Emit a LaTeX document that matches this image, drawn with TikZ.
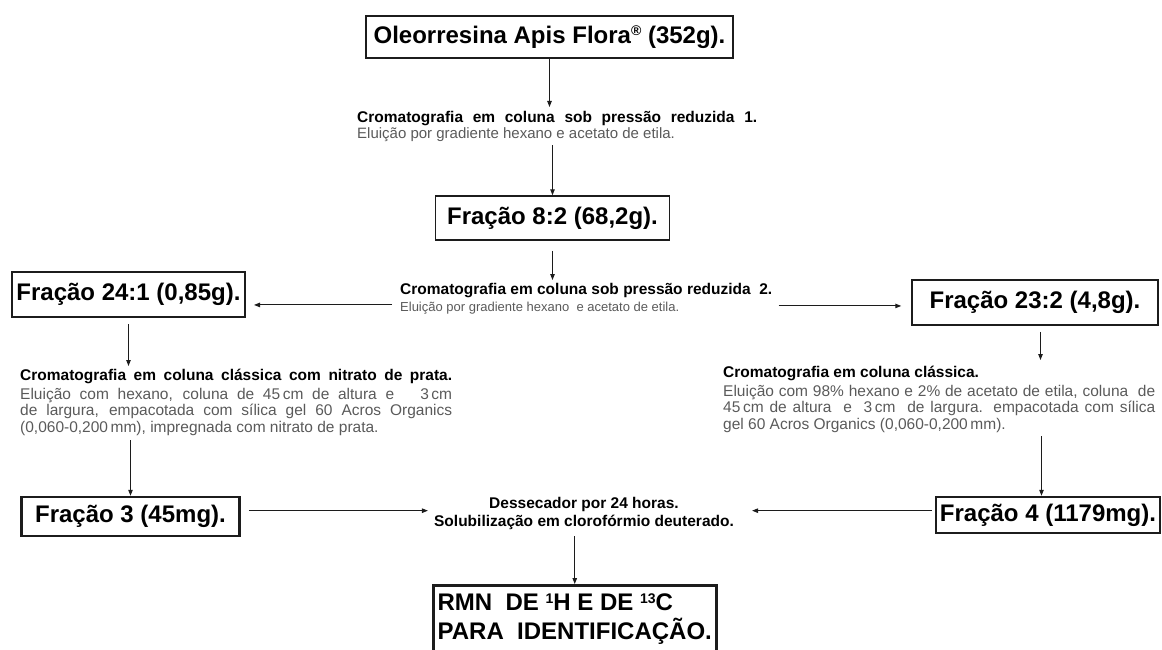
\documentclass[tikz,border=0pt]{standalone}
\usepackage{fontspec}
\setmainfont{Liberation Sans}
\usepackage{xcolor}
\usetikzlibrary{arrows.meta, positioning}
\definecolor{ink}{HTML}{1C1C1C}
\definecolor{notegray}{HTML}{5A5A5A}
\newcommand{\fracfont}{\fontsize{24}{29}\selectfont\bfseries}
\newcommand{\notefont}{\fontsize{15.5}{16.5}\selectfont}
\newcommand{\jline}[2][432pt]{\makebox[#1][s]{#2}}
\newcommand{\supmark}[1]{\raisebox{0.3em}{\fontsize{14}{14}\selectfont #1}}
\tikzset{
  frac box/.style={
    draw=ink,
    line width=1.5pt,
    font=\fracfont,
    inner xsep=4pt,
    inner ysep=0pt
  },
  heavy box/.style={frac box, line width=2.5pt},
  note/.style={
    font=\notefont,
    align=left,
    inner sep=0pt,
    anchor=north west
  },
  flow/.style={
    -{Triangle[length=6pt,width=4.5pt]},
    line width=1pt,
    color=ink
  }
}

\begin{document}
\begin{tikzpicture}[x=1pt,y=-1pt]
  \useasboundingbox (0,0) rectangle (1162,650);
  \clip (0,0) rectangle (1162,650);

  \node[heavy box, minimum width=367pt, minimum height=42pt] (ole) at (549.5,37) {Oleorresina Apis Flora\supmark{®} (352g).};
  \node[note] (cr1) at (357,111) {{\bfseries\jline[400pt]{Cromatografia em coluna sob pressão reduzida 1.}}\\
    {\fontsize{15}{17}\selectfont\color{notegray}Eluição por gradiente hexano e acetato de etila.}};
  \node[frac box, minimum width=234pt, minimum height=44pt] (f82) at (552.5,218) {Fração 8:2 (68,2g).};
  \node[note] (cr2) at (400,283) {{\bfseries Cromatografia em coluna sob pressão reduzida\ \ 2.}\\[1pt]
    {\fontsize{13}{16}\selectfont\color{notegray}Eluição por gradiente hexano\ \ e acetato de etila.}};
  \node[frac box, line width=2pt, minimum width=233pt, minimum height=45pt] (f241) at (128.5,294.5) {Fração 24:1 (0,85g).};
  \node[frac box, minimum width=246pt, minimum height=45pt] (f232) at (1035,302.5) {Fração 23:2 (4,8g).};

  \node[note] (crc) at (20,369) {{\bfseries\jline{Cromatografia em coluna clássica com nitrato de prata.}}\\[2pt]
    {\color{notegray}\jline{Eluição com hexano, coluna de 45\,cm de altura e\ \ \ 3\,cm}}\\
    {\color{notegray}\jline{de largura, empacotada com sílica gel 60 Acros Organics}}\\
    {\color{notegray}(0,060-0,200\,mm), impregnada com nitrato de prata.}};
  \node[note] (crd) at (723,366) {{\bfseries Cromatografia em coluna clássica.}\\[2pt]
    {\color{notegray}\jline{Eluição com 98\% hexano e 2\% de acetato de etila, coluna\ \ de}}\\
    {\color{notegray}\jline{45\,cm de altura\ \ e\ \ 3\,cm\ \ de largura. empacotada com sílica}}\\
    {\color{notegray}gel 60 Acros Organics (0,060-0,200\,mm).}};

  \node[heavy box, minimum width=218pt, minimum height=39pt] (f3) at (130.5,516.5) {Fração 3 (45mg).};
  \node[heavy box, minimum width=222pt, minimum height=36pt] (f4) at (1048,515) {Fração 4 (1179mg).};
  \node[note, anchor=north, align=center, font=\notefont\bfseries] (des) at (584,497) {Dessecador por 24 horas.\\[2pt]Solubilização em clorofórmio deuterado.};
  \node[heavy box, anchor=north west, align=left, minimum width=283pt, inner ysep=8pt] (rmn) at (432,584) {RMN\ \ DE \supmark{1}H E DE \supmark{13}C\\PARA\ \ IDENTIFICAÇÃO.};

  \draw[flow, shorten >=4pt] (ole) -- (ole |- cr1.north);
  \draw[flow, shorten <=3pt] (f82 |- cr1.south) -- (f82);
  \draw[flow, shorten <=10pt, shorten >=3pt] (f82) -- (f82 |- cr2.north);
  \draw[flow] ([shift={(-8pt,-6pt)}]cr2.west) -- ([shift={(8pt,-6pt)}]f241.east |- cr2.west);
  \draw[flow] ([shift={(6pt,-7pt)}]cr2.east) -- ([shift={(-10pt,-7pt)}]f232.west |- cr2.east);
  \draw[flow, shorten <=6pt, shorten >=3pt] (f241) -- (f241 |- crc.north);
  \draw[flow, shorten <=5pt] (f3 |- crc.south) -- (f3);
  \draw[flow, shorten <=6pt, shorten >=6pt] ([xshift=5.5pt]f232.south) -- ([xshift=5.5pt]f232.south |- crd.north);
  \draw[flow, shorten <=4pt] ([xshift=-6.5pt]f4.north |- crd.south) -- ([xshift=-6.5pt]f4.north);
  \draw[flow] ([shift={(8pt,3pt)}]f3.east |- des.west) -- ([shift={(-6pt,3pt)}]des.west);
  \draw[flow] ([shift={(-3pt,3pt)}]f4.west |- des.east) -- ([shift={(18pt,3pt)}]des.east);
  \draw[flow, shorten <=6pt] (rmn |- des.south) -- (rmn.north);
\end{tikzpicture}
\end{document}
